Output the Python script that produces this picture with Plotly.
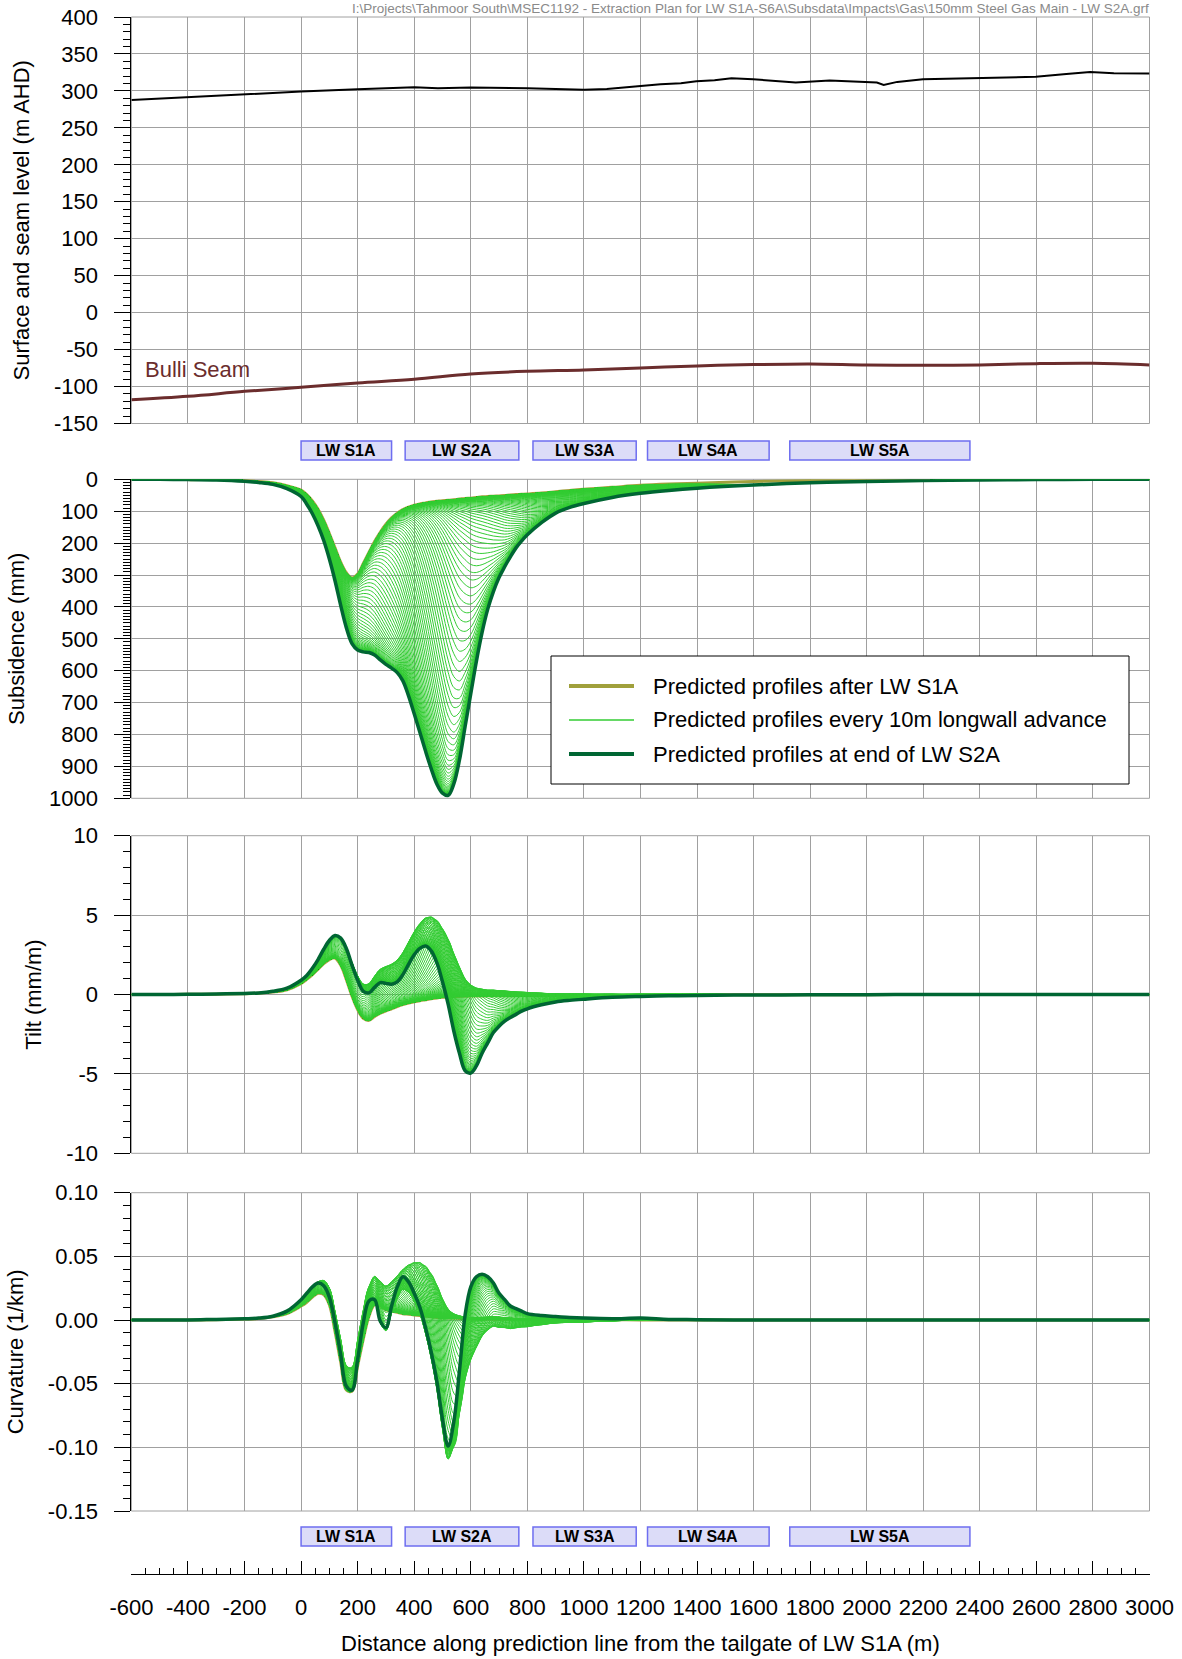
import numpy as np
import plotly.graph_objects as go

W, H = 1182, 1659
FONT = "Liberation Sans, Arial, sans-serif"

# ---------------- data ----------------
x_stations = [-600, -500, -400, -300, -200, -150, -100, -50, 0,
              20, 40, 60, 80, 100, 120, 140, 160, 180, 200,
              220, 240, 260, 280, 300, 320, 340, 360, 380, 400,
              420, 440, 460, 480, 500, 520, 540, 560, 580, 600,
              620, 640, 660, 680, 700, 720, 740, 760, 780, 800,
              850, 900, 950, 1000, 1100, 1200, 1300, 1400,
              1600, 1800, 2000, 2200, 2400, 2600, 2800, 3000]

subs_after_s1a = [0, 0, 1, 1, 4, 7, 11, 20, 34,
                  48, 68, 94, 128, 170, 215, 260, 293, 309, 297,
                  264, 229, 195, 166, 141, 121, 106, 95, 87, 81,
                  77, 74, 71, 69, 67, 66, 64, 62, 60, 59,
                  57, 55, 54, 53, 52, 51, 49, 48, 47, 46,
                  43, 39, 35, 31, 25, 19, 15, 12,
                  7, 4, 2, 1, 1, 0, 0, 0]

subs_end_s2a = [0, 0, 1, 2, 6, 10, 16, 29, 54,
                78, 108, 146, 192, 250, 318, 395, 465, 515, 535,
                541, 543, 551, 566, 580, 592, 606, 632, 679, 735,
                793, 852, 907, 955, 984, 991, 955, 880, 775, 672,
                570, 480, 407, 352, 308, 274, 243, 215, 193, 174,
                136, 106, 88, 76, 57, 44, 35, 28,
                18, 11, 7, 4, 2, 1, 0, 0]

tilt_after_s1a = [0, 0, 0.01, 0.02, 0.05, 0.08, 0.15, 0.3, 0.7,
                  0.95, 1.25, 1.6, 1.95, 2.2, 2.3, 1.85, 0.95, -0.1, -0.95,
                  -1.5, -1.63, -1.38, -1.18, -1.03, -0.9, -0.76, -0.64, -0.54, -0.46,
                  -0.39, -0.33, -0.27, -0.22, -0.18, -0.15, -0.13, -0.12, -0.11, -0.1,
                  -0.095, -0.09, -0.085, -0.08, -0.08, -0.075, -0.075, -0.07, -0.07, -0.07,
                  -0.07, -0.07, -0.065, -0.06, -0.06, -0.05, -0.04, -0.03,
                  -0.02, -0.01, -0.01, 0, 0, 0, 0, 0]

tilt_end_s2a = [0, 0, 0.01, 0.03, 0.07, 0.1, 0.2, 0.4, 0.9,
                1.2, 1.65, 2.2, 2.85, 3.4, 3.72, 3.55, 2.9, 1.85, 0.9,
                0.2, 0.1, 0.45, 0.75, 0.7, 0.65, 0.8, 1.25, 1.9, 2.5,
                2.9, 3.05, 2.75, 2.0, 0.8, -0.6, -2.3, -3.7, -4.8, -4.95,
                -4.5, -3.7, -3.05, -2.4, -2.0, -1.68, -1.45, -1.25, -1.05, -0.9,
                -0.65, -0.47, -0.37, -0.3, -0.18, -0.12, -0.08, -0.06,
                -0.03, -0.02, -0.01, 0, 0, 0, 0, 0]

curv_after_s1a = [0, 0, 0, 0.0003, 0.0008, 0.0012, 0.0025, 0.005, 0.011,
                  0.014, 0.018, 0.021, 0.02, 0.012, -0.009, -0.033, -0.055, -0.056, -0.036,
                  -0.015, 0.003, 0.012, 0.011, 0.008, 0.007, 0.006, 0.005, 0.0045, 0.004,
                  0.0035, 0.003, 0.0025, 0.002, 0.0018, 0.0016, 0.0014, 0.0012, 0.0011, 0.001,
                  0.0009, 0.0008, 0.0008, 0.0007, 0.0007, 0.0006, 0.0006, 0.0005, 0.0005, 0.0005,
                  0.0004, 0.0003, 0.0003, 0.0002, 0.0002, 0.0001, 0.0001, 0,
                  0, 0, 0, 0, 0, 0, 0, 0]

curv_end_s2a = [0, 0, 0, 0.0005, 0.001, 0.0015, 0.003, 0.007, 0.016,
                0.021, 0.026, 0.029, 0.027, 0.018, -0.002, -0.027, -0.052, -0.055, -0.031,
                -0.002, 0.015, 0.016, -0.001, -0.006, 0.011, 0.026, 0.034, 0.03, 0.021,
                0.01, -0.006, -0.025, -0.048, -0.078, -0.099, -0.08, -0.04, 0.004, 0.026,
                0.034, 0.036, 0.034, 0.029, 0.021, 0.016, 0.011, 0.009, 0.007, 0.005,
                0.0035, 0.0028, 0.002, 0.0015, 0.001, 0.0015, 0.0005, 0.0003,
                0, 0, 0, 0, 0, 0, 0, 0]

surface_x = [-600, -400, -200, 0, 200, 400, 484, 600, 800, 914, 1000, 1081, 1200, 1271,
             1343, 1398, 1462, 1522, 1598, 1677, 1749, 1869, 1988, 2036, 2060, 2108,
             2199, 2347, 2598, 2706, 2790, 2874, 3000]
surface_level = [287.8, 291.9, 295.9, 299.1, 302.3, 305.0, 303.6, 304.5, 303.6, 301.8, 301.4,
                 302.7, 307.2, 309.0, 310.4, 313.1, 314.5, 317.2, 315.8, 313.6, 311.3, 314.0,
                 312.2, 311.3, 308.1, 312.2, 315.8, 317.2, 319.0, 323.0, 325.7, 324.0, 323.5]

seam_x = [-600, -400, -200, 0, 200, 400, 600, 800, 1000, 1200, 1400, 1600, 1800, 2000,
          2200, 2400, 2600, 2800, 3000]
seam_level = [-117.8, -113.2, -106.5, -101.0, -95.2, -90.2, -83.0, -79.4, -77.6, -74.8,
              -72.1, -70.3, -69.4, -70.8, -71.2, -70.8, -69.0, -68.5, -70.8]

# projected face position of LW S2A on the line, every 10 m of advance
face_position = list(range(1500, -151, -10))
face_spread = 60.0

lw_names = ["LW S1A", "LW S2A", "LW S3A", "LW S4A", "LW S5A"]
lw_start = [0, 368, 820, 1225, 1728]
lw_end = [320, 770, 1185, 1655, 2365]

x_ticks = list(range(-600, 3001, 200))
x_tick_text = [str(v) for v in x_ticks]
y1_ticks = list(range(-150, 401, 50))
y2_ticks = list(range(0, 1001, 100))
y3_ticks = [-10, -5, 0, 5, 10]
y4_ticks = [-0.15, -0.10, -0.05, 0.0, 0.05, 0.10]
y4_text = ["-0.15", "-0.10", "-0.05", "0.00", "0.05", "0.10"]

# ---------------- styles / layout geometry ----------------
C_OLIVE = "#A0A03C"
C_LIGHT = "#33CC33"
C_DARK = "#006633"
C_SEAM = "#6B2D2D"
C_GRID = "#a0a0a0"

X0PX, X1PX = 131.4, 1149.5
panels_px = [(17.0, 423.5), (479.3, 798.3), (835.7, 1153.3), (1192.7, 1511.0)]
AXIS_PX = 1574.0


def px(p):
    return p / W


def py(p):
    return 1 - p / H


xdom = [px(X0PX), px(X1PX)]

# ---------------- intermediate profiles ----------------
xs = np.array(x_stations, float)
S1 = np.array(subs_after_s1a, float)
S2 = np.array(subs_end_s2a, float)
T1 = np.array(tilt_after_s1a, float)
T2 = np.array(tilt_end_s2a, float)
C1 = np.array(curv_after_s1a, float)
C2 = np.array(curv_end_s2a, float)
dS, dT, dC = S2 - S1, T2 - T1, C2 - C1

fan_x, fan_s, fan_t, fan_c = [], [], [], []
for f in face_position:
    w = 1.0 / (1.0 + np.exp(-(xs - f) / face_spread))
    w1 = w * (1 - w) / face_spread
    w2 = w * (1 - w) * (1 - 2 * w) / face_spread ** 2
    s = S1 + w * dS
    t = T1 + w * dT + w1 * dS
    c = C1 + w * dC + 2 * w1 * dT + w2 * dS
    fan_x += list(xs) + [None]
    fan_s += list(s) + [None]
    fan_t += list(t) + [None]
    fan_c += list(c) + [None]

fig = go.Figure()

# panel 1
fig.add_trace(go.Scatter(x=surface_x, y=surface_level, mode="lines",
                         line=dict(color="black", width=2), xaxis="x", yaxis="y",
                         showlegend=False, hoverinfo="skip"))
fig.add_trace(go.Scatter(x=seam_x, y=seam_level, mode="lines",
                         line=dict(color=C_SEAM, width=3, shape="spline"), xaxis="x", yaxis="y",
                         showlegend=False, hoverinfo="skip"))

# panels 2-4
for (ya, first, fan, last) in [("y2", S1, fan_s, S2), ("y3", T1, fan_t, T2), ("y4", C1, fan_c, C2)]:
    xa = "x" + ya[1:]
    fig.add_trace(go.Scatter(x=x_stations, y=first, mode="lines",
                             line=dict(color=C_OLIVE, width=3, shape="spline"),
                             xaxis=xa, yaxis=ya, showlegend=False, hoverinfo="skip"))
    fig.add_trace(go.Scatter(x=fan_x, y=fan, mode="lines", connectgaps=False,
                             line=dict(color=C_LIGHT, width=1, shape="spline"),
                             xaxis=xa, yaxis=ya, showlegend=False, hoverinfo="skip"))
    fig.add_trace(go.Scatter(x=x_stations, y=last, mode="lines",
                             line=dict(color=C_DARK, width=3.5, shape="spline"),
                             xaxis=xa, yaxis=ya, showlegend=False, hoverinfo="skip"))

# bottom scale dummy
fig.add_trace(go.Scatter(x=[-600, 3000], y=[0.5, 0.5], mode="lines", line=dict(width=0),
                         xaxis="x5", yaxis="y5", showlegend=False, hoverinfo="skip"))

tickfont = dict(family=FONT, size=22, color="black")
titlefont = dict(family=FONT, size=22, color="black")


def yax(i, rng, vals, texts, minor_dtick, title):
    top, bot = panels_px[i]
    return dict(domain=[py(bot), py(top)], range=rng, anchor="x" if i == 0 else "x%d" % (i + 1),
                tickmode="array", tickvals=vals, ticktext=texts,
                ticks="outside", ticklen=16, tickwidth=1, tickcolor="black",
                minor=dict(ticks="outside", ticklen=7, tickwidth=1, tickcolor="black",
                           tickmode="linear", tick0=0, dtick=minor_dtick, showgrid=False),
                showline=True, linecolor="black", linewidth=1,
                showgrid=True, gridcolor=C_GRID, gridwidth=1, zeroline=False,
                tickfont=tickfont, ticklabelstandoff=12,
                title=dict(text=title, font=titlefont, standoff=18),
                automargin=False, fixedrange=True)


def xax(i):
    return dict(domain=xdom, range=[-600, 3000], anchor="y" if i == 0 else "y%d" % (i + 1),
                tickmode="linear", tick0=0, dtick=200, showticklabels=False, ticks="",
                showgrid=True, gridcolor=C_GRID, gridwidth=1, zeroline=False, showline=False,
                automargin=False, fixedrange=True)


layout = dict(
    width=W, height=H, margin=dict(l=0, r=0, t=0, b=0),
    paper_bgcolor="white", plot_bgcolor="white", showlegend=False,
    font=dict(family=FONT, size=22, color="black"),
    xaxis=xax(0), xaxis2=xax(1), xaxis3=xax(2), xaxis4=xax(3),
    yaxis=yax(0, [-150, 400], y1_ticks, [str(v) for v in y1_ticks], 10,
              "Surface and seam level (m AHD)"),
    yaxis2=yax(1, [1000, 0], y2_ticks, [str(v) for v in y2_ticks], 10, "Subsidence (mm)"),
    yaxis3=yax(2, [-10, 10], y3_ticks, [str(v) for v in y3_ticks], 1, "Tilt (mm/m)"),
    yaxis4=yax(3, [-0.15, 0.10], y4_ticks, y4_text, 0.01, "Curvature (1/km)"),
    xaxis5=dict(domain=xdom, range=[-600, 3000], anchor="y5", side="bottom",
                tickmode="array", tickvals=x_ticks, ticktext=x_tick_text,
                ticks="inside", ticklen=13, tickwidth=1, tickcolor="black",
                minor=dict(ticks="inside", ticklen=6, tickwidth=1, tickcolor="black",
                           tickmode="linear", tick0=0, dtick=50, showgrid=False),
                showline=True, linecolor="black", linewidth=1, showgrid=False, zeroline=False,
                tickfont=tickfont, ticklabelstandoff=14, automargin=False, fixedrange=True),
    yaxis5=dict(domain=[py(AXIS_PX), py(AXIS_PX - 3)], range=[0, 1], visible=False,
                anchor="x5", fixedrange=True),
)
fig.update_layout(**layout)

shapes = []
annotations = []
# panel borders
for top, bot in panels_px:
    shapes.append(dict(type="rect", xref="paper", yref="paper", x0=xdom[0], x1=xdom[1],
                       y0=py(bot), y1=py(top), line=dict(color=C_GRID, width=1), layer="below"))

# LW panel boxes (top and bottom)
for (ytop, ybot) in [(441, 460), (1527, 1546)]:
    for name, a, b in zip(lw_names, lw_start, lw_end):
        shapes.append(dict(type="rect", xref="x", yref="paper", x0=a, x1=b,
                           y0=py(ybot), y1=py(ytop), fillcolor="#DCDCF8",
                           line=dict(color="#6E6EF0", width=1.5), layer="above"))
        annotations.append(dict(x=(a + b) / 2, y=py((ytop + ybot) / 2), xref="x", yref="paper",
                                text="<b>%s</b>" % name, showarrow=False,
                                font=dict(family=FONT, size=16, color="black"),
                                xanchor="center", yanchor="middle"))

# legend (drawn manually)
LEG = (551, 656, 1129, 784)
shapes.append(dict(type="rect", xref="paper", yref="paper", x0=px(LEG[0]), x1=px(LEG[2]),
                   y0=py(LEG[3]), y1=py(LEG[1]), fillcolor="white",
                   line=dict(color="black", width=1), layer="above"))
legend_items = [("Predicted profiles after LW S1A", C_OLIVE, 4),
                ("Predicted profiles every 10m longwall advance", C_LIGHT, 1.5),
                ("Predicted profiles at end of LW S2A", C_DARK, 4)]
for k, (txt, col, lw) in enumerate(legend_items):
    yy = 686 + 34 * k
    shapes.append(dict(type="line", xref="paper", yref="paper", x0=px(569), x1=px(634),
                       y0=py(yy), y1=py(yy), line=dict(color=col, width=lw), layer="above"))
    annotations.append(dict(x=px(651), y=py(yy), xref="paper", yref="paper", text=txt,
                            showarrow=False, xanchor="left", yanchor="middle",
                            font=dict(family=FONT, size=22, color="black")))

# Bulli seam label
annotations.append(dict(x=-560, y=-77, xref="x", yref="y", text="Bulli Seam", showarrow=False,
                        xanchor="left", yanchor="middle",
                        font=dict(family=FONT, size=22, color=C_SEAM)))

# x axis title
annotations.append(dict(x=(xdom[0] + xdom[1]) / 2, y=py(1643), xref="paper", yref="paper",
                        text="Distance along prediction line from the tailgate of LW S1A (m)",
                        showarrow=False, xanchor="center", yanchor="middle", font=titlefont))

# file path header at the top edge
annotations.append(dict(x=px(1150), y=1.0, xref="paper", yref="paper",
                        text="I:\\Projects\\Tahmoor South\\MSEC1192 - Extraction Plan for LW S1A-S6A\\Subsdata\\Impacts\\Gas\\150mm Steel Gas Main - LW S2A.grf",
                        showarrow=False, xanchor="right", yanchor="top", borderpad=0,
                        font=dict(family=FONT, size=13.5, color="#8a8a8a")))

fig.update_layout(shapes=shapes, annotations=annotations)
fig.write_html("out.html")
